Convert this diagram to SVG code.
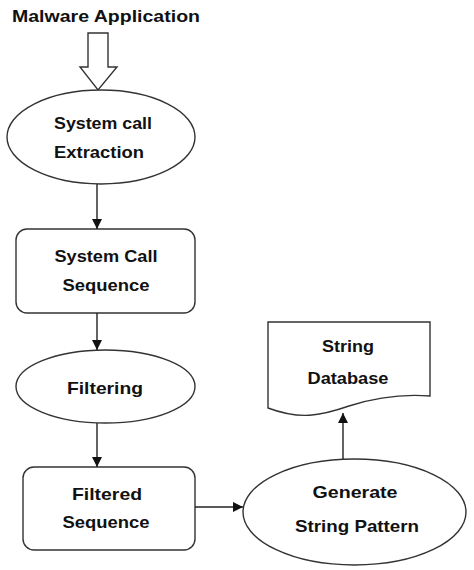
<svg xmlns="http://www.w3.org/2000/svg" width="474" height="570" viewBox="0 0 474 570">
<style>
.shape{fill:#fff;stroke:#333;stroke-width:1.4}
.line{fill:none;stroke:#222;stroke-width:1.4}
text{font-family:"Liberation Sans",Arial,sans-serif;font-weight:bold;font-size:17px;fill:#111;text-anchor:middle}
</style>
<defs>
<marker id="ah" viewBox="0 0 10 10" refX="10" refY="5" markerWidth="10" markerHeight="10" markerUnits="userSpaceOnUse" orient="auto">
<path d="M0,0 L10,5 L0,10 z" fill="#111"/>
</marker>
</defs>
<g id="title">
<text x="106" y="22" font-size="17" textLength="188" lengthAdjust="spacingAndGlyphs">Malware Application</text>
</g>
<g id="hollow-arrow">
<polygon class="shape" points="88,33 108,33 108,67 117,67 98,90 80,67 88,67"/>
</g>
<g id="extraction">
<ellipse class="shape" cx="101" cy="137" rx="94" ry="47"/>
<text x="103" y="129" textLength="98" lengthAdjust="spacingAndGlyphs">System call</text>
<text x="99" y="158" textLength="90" lengthAdjust="spacingAndGlyphs">Extraction</text>
</g>
<g id="syscall-seq">
<rect class="shape" x="16" y="229" width="179" height="84" rx="11"/>
<text x="106" y="262" textLength="103" lengthAdjust="spacingAndGlyphs">System Call</text>
<text x="106" y="291" textLength="87" lengthAdjust="spacingAndGlyphs">Sequence</text>
</g>
<g id="filtering">
<ellipse class="shape" cx="105.5" cy="386.5" rx="89.5" ry="36.5"/>
<text x="105" y="394" textLength="76" lengthAdjust="spacingAndGlyphs">Filtering</text>
</g>
<g id="filtered-seq">
<rect class="shape" x="23" y="467" width="172" height="83" rx="11"/>
<text x="107" y="500" textLength="70" lengthAdjust="spacingAndGlyphs">Filtered</text>
<text x="106" y="528" textLength="87" lengthAdjust="spacingAndGlyphs">Sequence</text>
</g>
<g id="generate">
<ellipse class="shape" cx="354.5" cy="512" rx="111.5" ry="53"/>
<text x="355" y="498" textLength="85" lengthAdjust="spacingAndGlyphs">Generate</text>
<text x="357" y="532" textLength="124" lengthAdjust="spacingAndGlyphs">String Pattern</text>
</g>
<g id="string-db">
<path class="shape" d="M268,322 H430 V396 C405,394 380,396 349,406 C320,416 300,420 268,408 Z"/>
<text x="348" y="352" textLength="52" lengthAdjust="spacingAndGlyphs">String</text>
<text x="348" y="384" textLength="81" lengthAdjust="spacingAndGlyphs">Database</text>
</g>
<g id="connectors">
<line class="line" x1="97" y1="184" x2="97" y2="229" marker-end="url(#ah)"/>
<line class="line" x1="97" y1="313" x2="97" y2="350" marker-end="url(#ah)"/>
<line class="line" x1="97" y1="423" x2="97" y2="467" marker-end="url(#ah)"/>
<line class="line" x1="195" y1="507" x2="243" y2="507" marker-end="url(#ah)"/>
<line class="line" x1="343" y1="459" x2="343" y2="413" marker-end="url(#ah)"/>
</g>
</svg>
